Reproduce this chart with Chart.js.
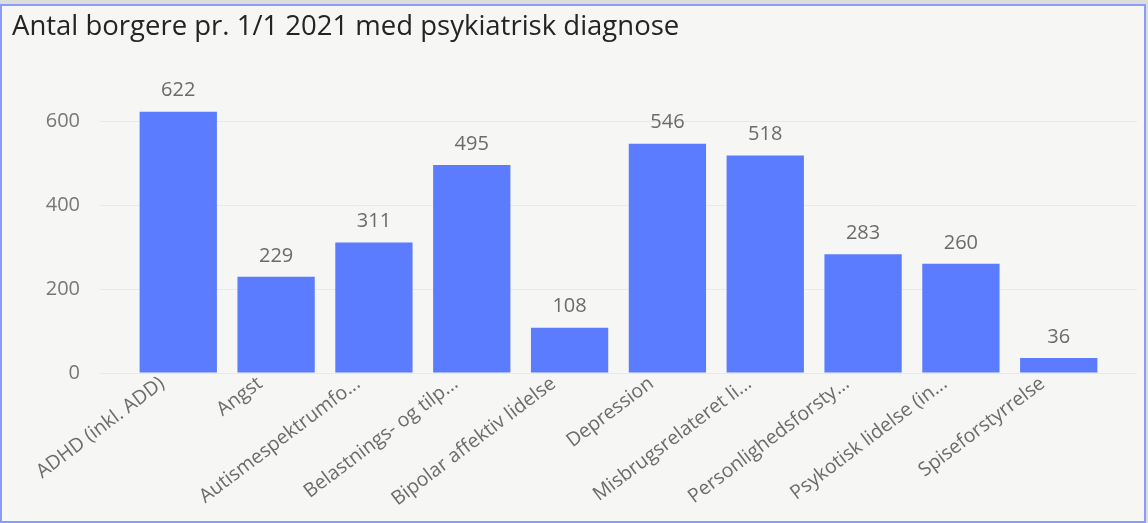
<!DOCTYPE html>
<html>
<head>
<meta charset="utf-8">
<script src="https://cdn.jsdelivr.net/npm/chart.js@4.4.1/dist/chart.umd.min.js"></script>
<style>
  html, body { margin: 0; padding: 0; background: #dcdcda; }
  .frame {
    position: absolute;
    left: 0;
    top: 4px;
    width: 1142px;
    height: 515px;
    border: 2px solid #8a9cfb;
    background: #f6f6f4;
  }
  canvas { display: block; }
</style>
</head>
<body>
<div class="frame"><canvas id="chart" width="1142" height="515"></canvas></div>
<script>
const title = "Antal borgere pr. 1/1 2021 med psykiatrisk diagnose";

const categories = [
  "ADHD (inkl. ADD)",
  "Angst",
  "Autismespektrumfo...",
  "Belastnings- og tilp...",
  "Bipolar affektiv lidelse",
  "Depression",
  "Misbrugsrelateret li...",
  "Personlighedsforsty...",
  "Psykotisk lidelse (in...",
  "Spiseforstyrrelse",
];

const counts = [622, 229, 311, 495, 108, 546, 518, 283, 260, 36];

const yTicks = [0, 200, 400, 600];

const FONT = "'Open Sans', 'DejaVu Sans', sans-serif";

// value labels above each bar
const barValueLabels = {
  id: "barValueLabels",
  afterDatasetsDraw(chart) {
    const ctx = chart.ctx;
    const meta = chart.getDatasetMeta(0);
    ctx.save();
    ctx.font = `20px ${FONT}`;
    ctx.fillStyle = "#6b6b6b";
    ctx.textAlign = "center";
    ctx.textBaseline = "middle";
    meta.data.forEach((bar, i) => {
      ctx.fillText(String(counts[i]), bar.x, bar.y - 21);
    });
    ctx.restore();
  },
};

const ctx = document.getElementById("chart");

new Chart(ctx, {
  type: "bar",
  data: {
    datasets: [
      {
        data: categories.map((c, i) => ({ x: i, y: counts[i] })),
        backgroundColor: "#5b7cff",
        borderWidth: 0,
        barPercentage: 0.79,
        categoryPercentage: 1,
      },
    ],
  },
  options: {
    responsive: false,
    animation: false,
    layout: { padding: { left: 10, right: 7, top: 0, bottom: 0 } },
    plugins: {
      legend: { display: false },
      tooltip: { enabled: false },
      title: {
        display: true,
        text: title,
        align: "start",
        color: "#252423",
        font: { family: FONT, size: 27.5, weight: "normal" },
        padding: { top: 5, bottom: 35 },
      },
    },
    scales: {
      x: {
        type: "linear",
        offset: false,
        min: -0.8,
        max: 9.8,
        grid: { display: false },
        border: { display: false },
        afterBuildTicks: (scale) => {
          scale.ticks = categories.map((c, i) => ({ value: i }));
        },
        afterFit: (scale) => {
          scale.height = 148;
        },
        ticks: {
          autoSkip: false,
          minRotation: 37,
          maxRotation: 37,
          color: "#6b6b6b",
          font: { family: FONT, size: 19.5 },
          padding: -9,
          labelOffset: -16,
          callback: (value) => categories[value],
        },
      },
      y: {
        min: 0,
        max: 700,
        grid: { color: "#e9e9e7", lineWidth: 1, drawTicks: false },
        border: { display: false },
        afterBuildTicks: (scale) => {
          scale.ticks = yTicks.map((v) => ({ value: v }));
        },
        afterFit: (scale) => {
          scale.width = 88;
        },
        ticks: {
          color: "#777777",
          font: { family: FONT, size: 20 },
          padding: 20,
        },
      },
    },
  },
  plugins: [barValueLabels],
});
</script>
</body>
</html>
